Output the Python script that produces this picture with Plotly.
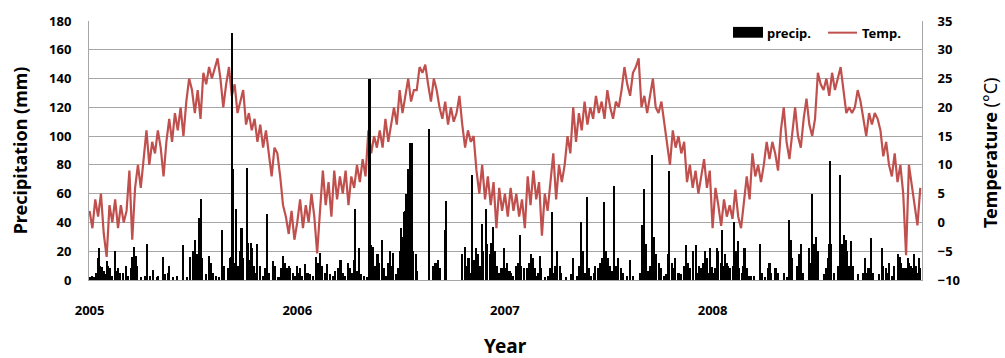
import pandas as pd
import plotly.graph_objects as go

# ---------------- data ----------------
years = [2005, 2006, 2007, 2008]
year_labels = ["2005", "2006", "2007", "2008"]

# temperature (deg C) sampled every 5 days from 1 Jan of each year
temp_2005 = [2, -1, 4, 1, 5, -2, -6, 3, 0, 4,
             -1, 3, 0, 2, 9, -3, 6, 10, 6, 11,
             16, 10, 14, 12, 16, 13, 8, 14, 18, 14,
             19, 16, 20, 15, 21, 25, 23, 19, 23, 18,
             26, 24, 27, 25, 27, 28.5, 25, 20, 24, 27,
             22, 24, 19, 21, 23, 17, 19, 16, 18, 14,
             17, 13, 16, 12, 8, 13, 12, 8, 3, 1,
             -2, 2, -3]
temp_2006 = [0, 4, -1, 3, 0, 5, 1, -5.4, 2, 9,
             3, 7, 1, 9, 4, 8, 5, 9, 3, 8,
             6, 10, 7, 11, 8, 16, 12, 15, 13, 16,
             13, 18, 14, 17, 20, 17, 23, 19, 22, 25,
             21, 23, 23, 27, 26, 27.4, 24, 21, 25, 23,
             20, 18, 21, 17, 20, 17.5, 19, 22, 17, 13,
             16, 14, 15, 9, 5, 10, 4, 8, 3, 7,
             -1, 6, 2]
temp_2007 = [5, 1, 6, 2, 5, 1, 4, -1, 8, 3,
             9, 4, 7, -2.3, 5, 2, 7, 12, 4, 10,
             7, 10, 15, 12, 20, 14, 19, 16, 21, 17,
             20, 18, 22, 19, 21, 18, 23, 20, 18, 21,
             20, 23, 27, 24, 22, 26, 27, 28.5, 20, 22,
             19, 22, 25, 20, 19, 21, 17.5, 14, 10, 16,
             13, 15, 12, 14, 7, 10, 6, 9, 5, 8,
             11, 6, 9]
temp_2008 = [-1, 6, 3, -0.6, 4, 1, 3, 0.6, 5.7, 1,
             -1, 3, 8, 4, 12, 8, 10, 7, 10, 14,
             11, 14, 12, 9, 16, 20, 14, 11, 16, 20,
             15, 13, 18, 21.5, 17, 15, 18, 26, 24, 23,
             25, 22, 26, 23, 25, 27, 23, 19, 20, 19,
             20, 23, 21, 18, 15, 19, 17, 19, 18, 16,
             11.5, 14, 10, 8, 12, 7, 10, 5, -5.7, 10,
             6, 3, -0.5, 6]

# precipitation events: day of year (0 = 1 Jan) and amount (mm)
rain_doy_2005 = [1, 4, 8, 12, 14, 16, 19, 22, 25, 28,
                 30, 33, 36, 40, 44, 47, 50, 53, 58, 64,
                 68, 72, 75, 78, 81, 84, 90, 97, 101, 106,
                 111, 118, 121, 129, 133, 137, 140, 146, 153, 164,
                 171, 176, 181, 185, 188, 192, 195, 198, 205, 210,
                 213, 217, 222, 228, 233, 237, 243, 246, 249, 251,
                 252, 254, 257, 260, 265, 267, 270, 276, 278, 281,
                 283, 286, 289, 292, 295, 300, 305, 308, 312, 316,
                 322, 325, 332, 336, 340, 343, 347, 350, 353, 357,
                 361, 364]
rain_mm_2005 = [2, 3, 2, 5, 15, 22, 10, 9, 6, 4,
                13, 10, 8, 3, 20, 6, 8, 5, 5, 10,
                3, 8, 16, 23, 17, 10, 2, 3, 25, 3,
                7, 2, 3, 16, 4, 5, 10, 2, 3, 24,
                2, 16, 20, 28, 18, 43, 56, 15, 4, 17,
                12, 5, 3, 2, 35, 10, 8, 15, 16, 172,
                77, 12, 49, 10, 20, 36, 15, 78, 26, 14,
                26, 22, 10, 5, 25, 10, 3, 8, 46, 5,
                13, 10, 2, 8, 17, 12, 8, 10, 8, 5,
                3, 10]
rain_doy_2006 = [2, 5, 9, 14, 18, 22, 28, 33, 36, 40,
                 44, 48, 53, 57, 62, 66, 71, 76, 80, 84,
                 90, 93, 97, 100, 102, 105, 109, 112, 118, 123,
                 127, 130, 133, 137, 141, 144, 149, 152, 156, 160,
                 163, 166, 169, 173, 177, 180, 182, 185, 188, 190,
                 192, 194, 196, 199, 201, 204, 208, 211, 232, 238,
                 243, 247, 250, 260, 262, 290, 294, 298, 301, 305,
                 307, 310, 314, 318, 321, 324, 327, 331, 334, 338,
                 341, 344, 347, 351, 355, 359, 363]
rain_mm_2006 = [5, 8, 3, 11, 5, 4, 3, 16, 12, 19,
                10, 5, 11, 4, 3, 6, 8, 14, 5, 3,
                12, 8, 5, 14, 49, 6, 22, 4, 3, 2,
                140, 24, 23, 10, 18, 12, 28, 8, 3, 12,
                20, 10, 19, 4, 8, 20, 36, 30, 47, 48,
                60, 77, 40, 95, 95, 20, 18, 6, 105, 10,
                12, 14, 8, 35, 55, 18, 23, 10, 15, 5,
                73, 14, 22, 18, 10, 39, 20, 49, 25, 18,
                26, 37, 20, 10, 5, 8, 22]
rain_doy_2007 = [1, 4, 8, 11, 15, 20, 23, 26, 29, 34,
                 39, 42, 45, 49, 52, 55, 58, 61, 64, 70,
                 76, 79, 82, 85, 88, 92, 96, 99, 108, 116,
                 120, 126, 131, 134, 137, 141, 144, 148, 152, 156,
                 159, 163, 167, 170, 174, 177, 181, 185, 188, 191,
                 195, 199, 204, 208, 214, 219, 225, 238, 241, 244,
                 248, 252, 255, 259, 262, 265, 270, 275, 279, 283,
                 286, 289, 293, 296, 299, 305, 310, 314, 318, 322,
                 326, 330, 335, 338, 341, 345, 349, 352, 355, 358,
                 361, 364]
rain_mm_2007 = [8, 12, 6, 5, 3, 10, 12, 31, 10, 8,
                8, 12, 18, 15, 8, 3, 5, 17, 8, 2,
                3, 8, 47, 5, 10, 20, 10, 5, 2, 4,
                15, 3, 10, 40, 20, 5, 58, 8, 3, 5,
                10, 8, 12, 15, 54, 20, 15, 10, 6, 65,
                10, 15, 8, 5, 3, 14, 3, 5, 38, 63,
                25, 6, 10, 87, 30, 18, 12, 8, 3, 4,
                18, 76, 12, 8, 15, 5, 4, 10, 24, 12,
                8, 20, 24, 5, 10, 8, 12, 20, 15, 5,
                22, 9]
rain_doy_2008 = [1, 5, 8, 10, 14, 16, 19, 22, 25, 27,
                 30, 35, 37, 38, 41, 44, 47, 51, 54, 56,
                 60, 64, 68, 72, 83, 86, 92, 97, 100, 103,
                 109, 112, 115, 125, 131, 134, 137, 140, 148, 152,
                 155, 158, 169, 172, 175, 178, 182, 186, 196, 199,
                 202, 204, 206, 208, 214, 220, 224, 227, 229, 231,
                 234, 237, 240, 244, 247, 256, 264, 267, 270, 274,
                 278, 281, 292, 297, 300, 304, 307, 310, 316, 319,
                 326, 329, 331, 335, 339, 343, 345, 348, 351, 354,
                 357, 360, 363, 365]
rain_mm_2008 = [5, 8, 22, 20, 12, 35, 10, 18, 12, 10,
                8, 10, 22, 40, 20, 27, 8, 5, 10, 22,
                8, 3, 3, 3, 25, 5, 2, 8, 12, 5,
                8, 8, 5, 5, 2, 42, 28, 15, 10, 18,
                25, 5, 22, 12, 60, 25, 30, 20, 4, 8,
                15, 25, 83, 25, 5, 10, 73, 25, 22, 31,
                28, 20, 10, 27, 10, 4, 5, 15, 5, 8,
                29, 5, 4, 22, 10, 8, 5, 12, 3, 10,
                18, 16, 12, 8, 8, 15, 12, 10, 8, 18,
                10, 5, 15, 8]

temps = [temp_2005, temp_2006, temp_2007, temp_2008]
rain_doys = [rain_doy_2005, rain_doy_2006, rain_doy_2007, rain_doy_2008]
rain_mms = [rain_mm_2005, rain_mm_2006, rain_mm_2007, rain_mm_2008]

# ---------------- build series ----------------
t_x, t_y = [], []
for yr, vals in zip(years, temps):
    start = pd.Timestamp(f"{yr}-01-01")
    for i, v in enumerate(vals):
        t_x.append(start + pd.Timedelta(days=5 * i))
        t_y.append(v)

p_x, p_y = [], []
for yr, doys, mms in zip(years, rain_doys, rain_mms):
    assert len(doys) == len(mms), (yr, len(doys), len(mms))
    start = pd.Timestamp(f"{yr}-01-01")
    for d, m in zip(doys, mms):
        p_x.append(start + pd.Timedelta(days=d))
        p_y.append(m)

RED = "#C0504D"
GRID = "#A6A6A6"
FONT = "Noto Sans"
DAY_MS = 86400000

fig = go.Figure()
fig.add_trace(go.Scatter(
    x=t_x, y=t_y, mode="lines", name="Temp.", yaxis="y",
    line=dict(color=RED, width=2.2), showlegend=False))
fig.add_trace(go.Bar(
    x=p_x, y=p_y, name="precip.", yaxis="y2",
    width=DAY_MS * 3.6, marker=dict(color="black", line=dict(width=0)),
    showlegend=False))

tick_font = dict(family=FONT, size=13, color="black", weight="bold")

fig.update_layout(
    width=1005, height=358,
    margin=dict(l=89, r=83, t=17, b=78),
    paper_bgcolor="white", plot_bgcolor="white",
    bargap=0,
    xaxis=dict(
        type="date",
        range=["2004-12-31", "2009-01-03"],
        tickvals=[pd.Timestamp(f"{y}-01-01") for y in years],
        ticktext=year_labels,
        showgrid=False, showline=True, linecolor=GRID, linewidth=1,
        ticks="", tickfont=tick_font, ticklabelstandoff=18,
        zeroline=False,
    ),
    yaxis=dict(
        range=[-10, 35], dtick=5, side="right",
        showgrid=False, zeroline=False,
        showline=True, linecolor=GRID, linewidth=1,
        ticks="", tickfont=tick_font, ticklabelstandoff=12,
    ),
    yaxis2=dict(
        range=[0, 180], dtick=20, side="left", overlaying="y",
        showgrid=True, gridcolor=GRID, gridwidth=1, zeroline=False,
        showline=True, linecolor=GRID, linewidth=1,
        ticks="", tickfont=tick_font, ticklabelstandoff=14,
    ),
    showlegend=False,
)

# axis titles
fig.add_annotation(text="Precipitation (mm)", xref="paper", yref="paper",
                   x=-0.083, y=0.50, textangle=-90, showarrow=False,
                   xanchor="center", yanchor="middle",
                   font=dict(family=FONT, size=18, color="black", weight="bold"))
fig.add_annotation(text="Temperature <span style='font-weight:normal'>(°C)</span>",
                   xref="paper", yref="paper",
                   x=1.0816, y=0.494, textangle=-90, showarrow=False,
                   xanchor="center", yanchor="middle",
                   font=dict(family=FONT, size=18, color="black", weight="bold"))
fig.add_annotation(text="Year", xref="paper", yref="paper",
                   x=0.4994, y=-0.255, showarrow=False,
                   xanchor="center", yanchor="middle",
                   font=dict(family=FONT, size=19, color="black", weight="bold"))

# legend (drawn to match the reference's wide swatch)
fig.add_shape(type="rect", xref="paper", yref="paper",
              x0=0.7731, x1=0.8091, y0=0.9354, y1=0.9772,
              fillcolor="black", line=dict(width=0))
fig.add_annotation(text="precip.", xref="paper", yref="paper",
                   x=0.8115, y=0.955, showarrow=False,
                   xanchor="left", yanchor="middle",
                   font=dict(family=FONT, size=13, color="black", weight="bold"))
fig.add_shape(type="line", xref="paper", yref="paper",
              x0=0.8872, x1=0.9220, y0=0.955, y1=0.955,
              line=dict(color=RED, width=2))
fig.add_annotation(text="Temp.", xref="paper", yref="paper",
                   x=0.9256, y=0.955, showarrow=False,
                   xanchor="left", yanchor="middle",
                   font=dict(family=FONT, size=13, color="black", weight="bold"))

fig.write_html(
    "out.html",
    config={"displayModeBar": False},
    post_script="document.body.style.margin='0';document.body.style.overflow='hidden';",
)
